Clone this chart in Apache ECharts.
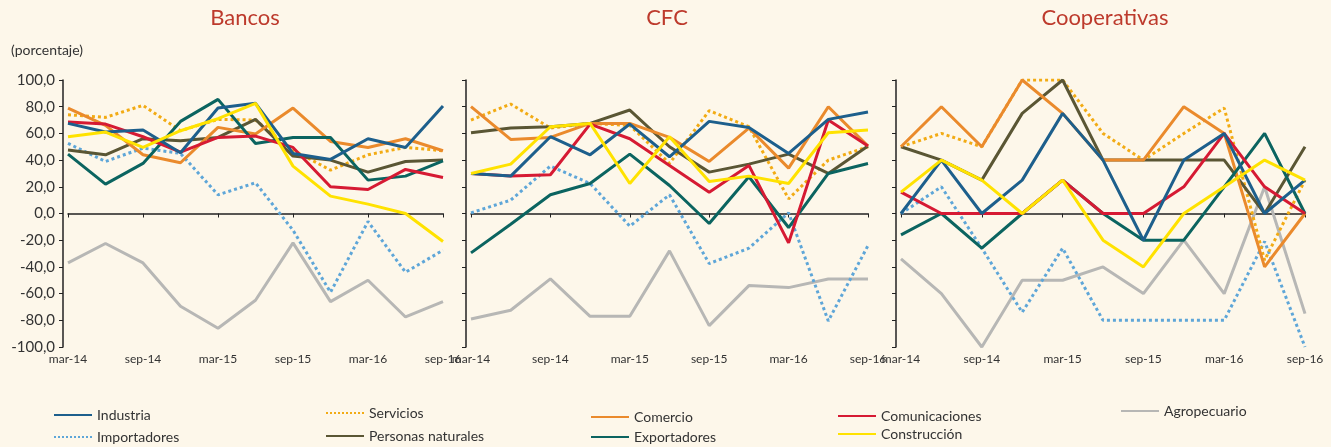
<!DOCTYPE html>
<html>
<head>
<meta http-equiv="Content-Type" content="text/html; charset=utf-8" />
<title>Percepción por sector</title>
<style type="text/css">
  html {height:100%}
  body {height:100%; margin:0px; padding:0px; background:#fdf7ea;}
  #main {width:1331px; height:447px;}
</style>
<script type="text/javascript" src="https://cdn.jsdelivr.net/npm/echarts@6/dist/echarts.min.js"></script>
</head>
<body>
<div id="main"></div>
<script type="text/javascript">
var quarters = ['mar-14','jun-14','sep-14','dic-14','mar-15','jun-15','sep-15','dic-15','mar-16','jun-16','sep-16'];
var panels = ['Bancos', 'CFC', 'Cooperativas'];
var names = ['Agropecuario','Importadores','Servicios','Personas naturales','Comercio','Exportadores','Comunicaciones','Industria','Construcción'];

// Bancos
var bancosIndustria      = [67.5, 61, 62.5, 45.5, 79, 82.5, 45, 40.5, 56, 49.5, 80.5];
var bancosServicios      = [74, 72, 81, 62, 70.5, 70, 47.5, 32.5, 44, 49.5, 47];
var bancosComercio       = [79, 66, 44, 38, 64.5, 59.5, 79, 54, 49.5, 56, 47];
var bancosComunicaciones = [68.5, 67, 57.5, 46, 57, 58, 49.5, 20, 18, 33, 27];
var bancosAgropecuario   = [-37, -22.5, -37, -69.5, -86, -65, -22, -66, -50, -77.5, -66];
var bancosImportadores   = [52.5, 39, 49, 45, 14, 23, -12.5, -59, -6, -44, -27.5];
var bancosPersonas       = [47.5, 44, 56, 54.5, 57, 70.5, 43, 40, 31, 39, 40];
var bancosExportadores   = [44.5, 22, 37.5, 69, 85.5, 52.5, 57, 57, 25, 28, 39.5];
var bancosConstruccion   = [57.5, 61, 49.5, 62, 71, 82.5, 35.5, 13, 7, 0, -21];

// CFC
var cfcIndustria      = [30, 28, 57.5, 44, 67, 42.5, 69, 64.5, 45, 70.5, 76];
var cfcServicios      = [70, 82, 64, 67.5, 66, 37.5, 77, 65, 11, 40, 50];
var cfcComercio       = [80, 55.5, 57, 67.5, 67.5, 57, 39, 64, 34, 80, 50.5];
var cfcComunicaciones = [30, 28, 29, 67, 56, 36, 16, 36, -22, 70, 50.5];
var cfcAgropecuario   = [-79, -72.5, -49, -77, -77, -28, -84, -54, -55.5, -49, -49];
var cfcImportadores   = [0.5, 10, 35.5, 22.5, -9.5, 14, -37.5, -26, 0.5, -80.5, -24];
var cfcPersonas       = [60.5, 64, 65, 67.5, 77.5, 50, 31, 37, 44.5, 30, 50.5];
var cfcExportadores   = [-29.5, -8, 14, 22.5, 44.5, 21, -7.5, 27.5, -10.5, 30, 37.5];
var cfcConstruccion   = [30, 37, 65, 67.5, 22.5, 57.5, 24, 28, 22.5, 60.5, 62.5];

// Cooperativas
var coopIndustria      = [0, 40, 0, 25, 75, 40, -20, 40, 60, 0, 25];
var coopServicios      = [50, 60, 50, 100, 100, 60, 40, 60, 79, -35, 25];
var coopComercio       = [50, 80, 50, 100, 75, 40, 40, 80, 60, -40, 0];
var coopComunicaciones = [16, 0, 0, 0, 25, 0, 0, 20, 60, 20, 0];
var coopAgropecuario   = [-34, -60, -100, -50, -50, -40, -60, -20, -60, 20, -75];
var coopImportadores   = [0, 20, -26, -74, -26, -80, -80, -80, -80, -21, -100];
var coopPersonas       = [50, 40, 25, 75, 100, 40, 40, 40, 40, 0, 50];
var coopExportadores   = [-16, 0, -26, 0, 25, 0, -20, -20, 20, 60, 0];
var coopConstruccion   = [16, 40, 25, 0, 25, -20, -40, 0, 20, 40, 25];

var styles = {
  'Industria':          {color: '#1d5f8c', type: 'solid'},
  'Servicios':          {color: '#f2ab14', type: 'dotted'},
  'Comercio':           {color: '#ea8a2c', type: 'solid'},
  'Comunicaciones':     {color: '#d61a33', type: 'solid'},
  'Agropecuario':       {color: '#b7b7b5', type: 'solid'},
  'Importadores':       {color: '#5ea6d8', type: 'dotted'},
  'Personas naturales': {color: '#5a5634', type: 'solid'},
  'Exportadores':       {color: '#0b6460', type: 'solid'},
  'Construcción':       {color: '#ffe200', type: 'solid'}
};

var panelData = [
  {'Industria': bancosIndustria, 'Servicios': bancosServicios, 'Comercio': bancosComercio,
   'Comunicaciones': bancosComunicaciones, 'Agropecuario': bancosAgropecuario,
   'Importadores': bancosImportadores, 'Personas naturales': bancosPersonas,
   'Exportadores': bancosExportadores, 'Construcción': bancosConstruccion},
  {'Industria': cfcIndustria, 'Servicios': cfcServicios, 'Comercio': cfcComercio,
   'Comunicaciones': cfcComunicaciones, 'Agropecuario': cfcAgropecuario,
   'Importadores': cfcImportadores, 'Personas naturales': cfcPersonas,
   'Exportadores': cfcExportadores, 'Construcción': cfcConstruccion},
  {'Industria': coopIndustria, 'Servicios': coopServicios, 'Comercio': coopComercio,
   'Comunicaciones': coopComunicaciones, 'Agropecuario': coopAgropecuario,
   'Importadores': coopImportadores, 'Personas naturales': coopPersonas,
   'Exportadores': coopExportadores, 'Construcción': coopConstruccion}
];

var font = 'Lato';
var textColor = '#333333';

var grids = [
  {left: 68, top: 80, width: 375, height: 267},
  {left: 471, top: 80, width: 397, height: 267},
  {left: 901, top: 80, width: 404, height: 267}
];
var titleCenters = [240, 662, 1100];

var xAxes = [], yAxes = [], series = [], titles = [];
for (var p = 0; p < 3; p++) {
  titles.push({
    text: panels[p], left: titleCenters[p], top: 2, textAlign: 'center',
    textStyle: {fontFamily: font, fontSize: 22, fontWeight: 'normal', color: '#bd3a2c'}
  });
  // bottom axis, labels only
  xAxes.push({
    gridIndex: p, type: 'category', data: quarters, boundaryGap: false, position: 'bottom',
    axisLine: {show: false, onZero: false}, axisTick: {show: false},
    axisLabel: {interval: 1, margin: 6, fontFamily: font, fontSize: 12, color: textColor}
  });
  // zero line
  xAxes.push({
    gridIndex: p, type: 'category', data: quarters, boundaryGap: false, position: 'top',
    axisLine: {show: true, onZero: true, lineStyle: {color: '#222', width: 1.5}},
    axisTick: {show: true, inside: true, length: 4, lineStyle: {color: '#222'}},
    axisLabel: {show: false}
  });
  yAxes.push({
    gridIndex: p, type: 'value', min: -100, max: 100, interval: 20, offset: 5,
    axisLine: {show: true, lineStyle: {color: '#222', width: 1.5}},
    axisTick: {show: true, length: 4, lineStyle: {color: '#222'}},
    splitLine: {show: false},
    axisLabel: {
      show: p === 0, margin: 8, fontFamily: font, fontSize: 15, color: textColor,
      formatter: function (v) { return v.toFixed(1).replace('.', ','); }
    }
  });
  for (var i = 0; i < names.length; i++) {
    var n = names[i];
    series.push({
      name: n, type: 'line', xAxisIndex: p * 2, yAxisIndex: p,
      data: panelData[p][n], symbol: 'none', animation: false,
      lineStyle: {color: styles[n].color, width: 3, type: styles[n].type},
      itemStyle: {color: styles[n].color}
    });
  }
}

// legend placement, one component per entry
var legendPos = [
  ['Industria', 48, 403], ['Importadores', 48, 425],
  ['Servicios', 320, 401], ['Personas naturales', 320, 424],
  ['Comercio', 585, 405], ['Exportadores', 585, 425],
  ['Comunicaciones', 832, 404], ['Construcción', 832, 422],
  ['Agropecuario', 1115, 399]
];
var legends = legendPos.map(function (l) {
  return {
    data: [l[0]], left: l[1], top: l[2], itemWidth: 38, itemHeight: 12, itemGap: 8,
    selectedMode: false, itemStyle: {opacity: 0},
    textStyle: {fontFamily: font, fontSize: 14, color: textColor}
  };
});

var myChart = echarts.init(document.getElementById('main'));
myChart.setOption({
  backgroundColor: '#fdf7ea',
  title: titles.concat([{
    text: '(porcentaje)', left: 6, top: 38,
    textStyle: {fontFamily: font, fontSize: 14, fontWeight: 'normal', color: textColor}
  }]),
  legend: legends,
  grid: grids,
  xAxis: xAxes,
  yAxis: yAxes,
  series: series
});
</script>
</body>
</html>
